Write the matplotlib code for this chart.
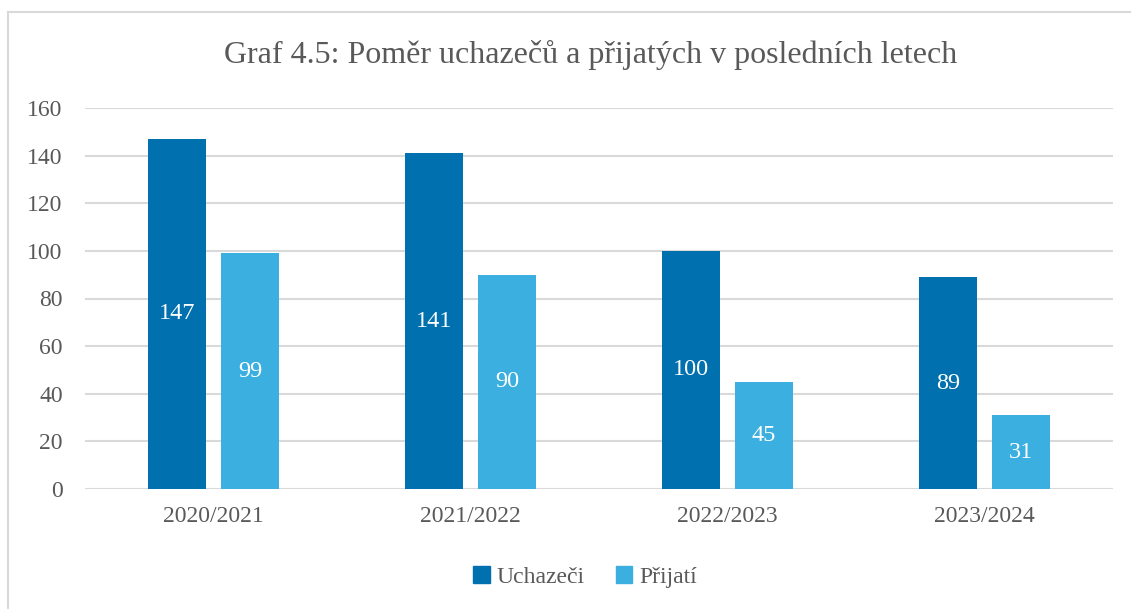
import matplotlib.pyplot as plt
import numpy as np
from matplotlib.patches import Patch
from matplotlib.lines import Line2D

# --- data ---
years = ["2020/2021", "2021/2022", "2022/2023", "2023/2024"]
uchazeci = [147, 141, 100, 89]
prijati = [99, 90, 45, 31]

dark = "#0070AF"
light = "#3BAFE0"
grey_text = "#595959"
grid_col = "#D9D9D9"

plt.rcParams["font.family"] = ["Liberation Serif", "DejaVu Serif"]

fig = plt.figure(figsize=(11.31, 6.09), dpi=100)
W, H = 1131, 609
ax = fig.add_axes([85 / W, 1 - 489 / H, (1113 - 85) / W, (489 - 108) / H])

x = np.arange(len(years))
bw = 0.226
off = 0.142
b1 = ax.bar(x - off, uchazeci, bw, color=dark, zorder=3)
b2 = ax.bar(x + off, prijati, bw, color=light, zorder=3)

for bars in (b1, b2):
    for rect in bars:
        h = rect.get_height()
        ax.text(rect.get_x() + rect.get_width() / 2, h / 2, f"{h:g}",
                ha="center", va="center", color="white", fontsize=17.5, zorder=4)

ax.set_xlim(-0.5, len(years) - 0.5)
ax.set_ylim(0, 160)
ax.set_yticks(range(0, 161, 20))
ax.set_xticks(x)
ax.set_xticklabels(years)
ax.yaxis.grid(True, color=grid_col, linewidth=1.5, zorder=0)
ax.set_axisbelow(True)
for s in ax.spines.values():
    s.set_visible(False)
ax.tick_params(length=0, labelsize=17, colors=grey_text)
ax.tick_params(axis="y", pad=16)
ax.tick_params(axis="x", pad=12)

fig.text(591 / W, 1 - 55 / H, "Graf 4.5: Poměr uchazečů a přijatých v posledních letech",
         ha="center", va="center", fontsize=23, color=grey_text)

handles = [Patch(color=dark, label="Uchazeči"), Patch(color=light, label="Přijatí")]
fig.legend(handles=handles, loc="center", bbox_to_anchor=(585 / W, 1 - 577 / H),
           ncol=2, frameon=False, fontsize=17, handlelength=0.7, handleheight=0.7,
           handletextpad=0.3, columnspacing=1.3, labelcolor=grey_text)

# chart frame (left and top edges visible)
fig.add_artist(Line2D([8 / W, 8 / W], [0, 1 - 12 / H], color=grid_col, linewidth=1.5,
                      transform=fig.transFigure))
fig.add_artist(Line2D([8 / W, 1], [1 - 12 / H, 1 - 12 / H], color=grid_col, linewidth=1.5,
                      transform=fig.transFigure))

fig.savefig("out.png", dpi=100)
